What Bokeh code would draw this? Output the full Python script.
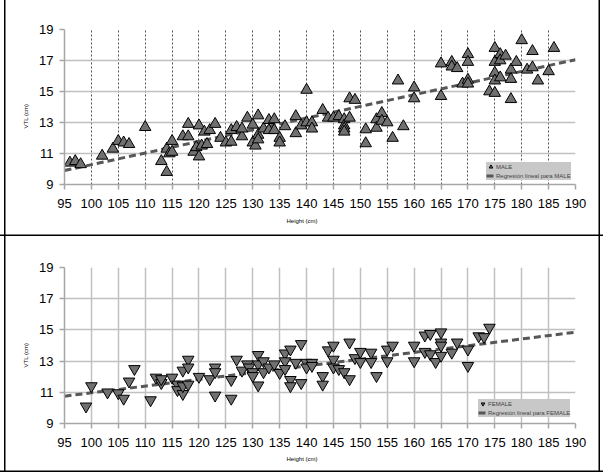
from bokeh.plotting import figure
from bokeh.models import FixedTicker, Legend, LegendItem, Range1d, Title
from bokeh.layouts import column
from bokeh.embed import file_html
from bokeh.resources import INLINE

# ---------------- data ----------------
male_height = [96, 97, 98, 102, 104, 105, 106, 107, 110, 113, 114, 114, 114.5, 115, 115,
               117, 118, 118, 119, 119.5, 120, 120, 120.5, 121, 121.5, 122, 123, 124, 125,
               126, 126, 127, 128, 128, 129, 130, 130, 130.5, 131, 131, 131, 132, 133, 133,
               134, 134, 135, 135, 136, 138, 138, 139, 140, 140, 141, 141, 143, 144, 145,
               146, 147, 147, 147, 147, 148, 148, 149, 151, 151, 153, 153, 154, 154, 155,
               156, 157, 158, 160, 160, 165, 165, 167, 167, 168, 169, 170, 170, 170, 170,
               174, 175, 175, 175, 175, 175, 176, 176, 176, 177, 178, 178, 178, 179, 180,
               181, 182, 182, 183, 185, 186]
male_vtl = [10.4, 10.5, 10.3, 10.85, 11.3, 11.8, 11.7, 11.6, 12.7, 10.5, 9.8, 11.3, 11.0, 11.8, 11.1,
            12.1, 12.9, 12.1, 11.1, 11.4, 12.8, 10.8, 11.5, 12.4, 11.6, 12.5, 12.9, 12.0, 11.7,
            11.75, 12.5, 12.7, 12.1, 12.6, 13.3, 12.85, 11.7, 11.5, 13.45, 12.2, 11.9, 12.6, 13.15, 12.5,
            13.2, 12.5, 12.0, 11.7, 12.75, 13.4, 12.3, 12.8, 15.1, 13.0, 13.0, 12.6, 13.8, 13.3, 13.3,
            13.4, 13.2, 12.8, 12.6, 12.4, 13.3, 14.55, 14.45, 12.55, 11.65, 13.2, 12.65, 13.6, 13.1, 13.0,
            12.0, 15.7, 12.75, 15.25, 14.55, 16.8, 14.7, 16.9, 16.6, 16.5, 15.5, 17.4, 16.9, 15.75, 15.5,
            15.0, 17.8, 16.9, 16.2, 15.7, 14.9, 17.4, 17.0, 15.9, 17.3, 16.4, 15.8, 14.5, 16.9, 18.3,
            16.4, 17.6, 16.55, 15.7, 16.3, 17.8]

female_height = [99, 100, 103, 105, 106, 107, 108, 111, 112, 113, 113, 115, 116, 116, 117, 117, 117,
                 118, 118, 118, 120, 122, 123, 123, 123, 126, 126, 127, 128, 129, 129.3, 130, 130,
                 131, 131, 131, 132, 132, 133, 134, 135, 136, 136, 136, 137, 137, 137, 138, 139, 139,
                 140, 140, 141, 141, 143, 143, 144, 145, 145, 145, 146, 147, 148, 148, 149, 150, 150,
                 152, 152, 153, 155, 155, 156, 160, 160, 162, 162, 163, 163, 164, 165, 165, 165, 165,
                 167, 168, 170, 170, 172, 173, 174]
female_vtl = [10.1, 11.4, 11.0, 10.95, 10.6, 11.7, 12.5, 10.5, 11.95, 11.6, 11.85, 11.95, 11.5, 11.15, 12.4, 10.9, 11.4,
              13.1, 12.6, 11.5, 12.0, 11.85, 12.6, 12.3, 10.8, 11.8, 10.6, 13.1, 12.4, 12.8, 12.6, 12.3, 12.05,
              13.4, 11.45, 12.8, 13.0, 12.3, 12.6, 12.8, 12.25, 13.5, 13.0, 12.5, 13.75, 11.8, 11.4, 12.9, 14.1, 11.6,
              12.9, 12.6, 12.9, 12.7, 12.05, 11.5, 13.7, 14.0, 13.1, 12.6, 12.5, 12.3, 14.2, 11.85, 13.2, 13.6, 12.95,
              13.55, 12.95, 12.05, 13.75, 13.0, 14.0, 14.0, 13.0, 14.65, 13.6, 14.75, 13.45, 12.95, 14.85, 14.2, 14.0, 13.35,
              13.55, 14.2, 13.75, 12.7, 14.6, 14.55, 15.15]

male_fit_x = [95, 190]
male_fit_y = [9.9, 17.05]
female_fit_x = [95, 190]
female_fit_y = [10.75, 14.85]

x_ticks = [95, 100, 105, 110, 115, 120, 125, 130, 135, 140, 145, 150, 155, 160, 165, 170, 175, 180, 185, 190]
y_ticks = [9, 11, 13, 15, 17, 19]

FONT = "Liberation Sans"
MARK_FILL = "#707070"
FIT_COLOR = "#575757"
W = 603

SIDES = "inset 4px 0 0 0 white, inset -3px 0 0 0 white, inset 5.5px 0 0 0 black, inset -4.5px 0 0 0 black"
TOP_SHADOW = "inset 0 -1.5px 0 0 black, " + SIDES
BOTTOM_SHADOW = "inset 0 -3px 0 0 white, inset 0 -4.5px 0 0 black, " + SIDES


def make_panel(height, top, bottom, xs, ys, marker, fit_x, fit_y, name, legend_loc,
               dotted_vgrid, shadow, xtitle_standoff):
    p = figure(width=W, height=height, x_range=Range1d(95, 190), y_range=Range1d(9, 19),
               output_backend="svg", toolbar_location=None,
               min_border_left=64, min_border_right=28,
               min_border_top=top, min_border_bottom=bottom)
    p.outline_line_color = None
    p.background_fill_color = "white"
    p.border_fill_color = None

    p.xaxis.ticker = FixedTicker(ticks=x_ticks)
    p.yaxis.ticker = FixedTicker(ticks=y_ticks)
    for ax in (p.xaxis, p.yaxis):
        ax.axis_line_color = "#a6a6a6"
        ax.axis_line_width = 1.5
        ax.major_tick_line_color = "#a6a6a6"
        ax.major_tick_line_width = 1.5
        ax.major_tick_out = 5
        ax.major_tick_in = 0
        ax.minor_tick_line_color = None
        ax.major_label_text_font = FONT
        ax.major_label_text_font_size = "13px"
        ax.major_label_text_color = "black"
    p.xaxis.major_label_standoff = 9
    p.yaxis.major_label_standoff = 6

    p.ygrid.grid_line_color = "#c0c0c0"
    p.ygrid.grid_line_width = 1.5
    if dotted_vgrid:
        p.xgrid.grid_line_color = "#505050"
        p.xgrid.grid_line_width = 1
        p.xgrid.grid_line_dash = "2 2"
    else:
        p.xgrid.grid_line_color = "#c0c0c0"
        p.xgrid.grid_line_width = 1.5

    r_line = p.line(fit_x, fit_y, line_color=FIT_COLOR, line_width=3, line_dash="7 4")
    r_pts = p.scatter(xs, ys, marker=marker, size=11.5, fill_color=MARK_FILL,
                      line_color="black", line_width=1)

    legend = Legend(items=[LegendItem(label=name, renderers=[r_pts]),
                           LegendItem(label="Regresión lineal para " + name, renderers=[r_line])],
                    location=legend_loc)
    legend.label_text_font = FONT
    legend.label_text_font_size = "6px"
    legend.label_height = 8
    legend.glyph_height = 9
    legend.glyph_width = 9
    legend.label_standoff = 1
    legend.padding = 2
    legend.spacing = 0
    legend.margin = 0
    legend.border_line_color = None
    legend.background_fill_color = "#c8c8c8"
    legend.background_fill_alpha = 1
    p.add_layout(legend)

    p.add_layout(Title(text="Height  (cm)", align="left", offset=222, standoff=xtitle_standoff,
                       text_font=FONT, text_font_size="6px", text_font_style="normal",
                       text_color="black"), "below")
    p.add_layout(Title(text="VTL  (cm)", align="left", offset=56, standoff=15,
                       text_font=FONT, text_font_size="6px", text_font_style="normal",
                       text_color="black"), "left")

    p.styles = {"box-shadow": shadow}
    return p


p1 = make_panel(236, 29, 52, male_height, male_vtl, "triangle", male_fit_x, male_fit_y,
                "MALE", (422, 4), True, TOP_SHADOW, 11)
p2 = make_panel(239, 31, 52, female_height, female_vtl, "inverted_triangle", female_fit_x,
                female_fit_y, "FEMALE", (414, 6), False, BOTTOM_SHADOW, 9)

layout = column(p1, p2, spacing=0)
open("out.html", "w").write(file_html(layout, INLINE))
